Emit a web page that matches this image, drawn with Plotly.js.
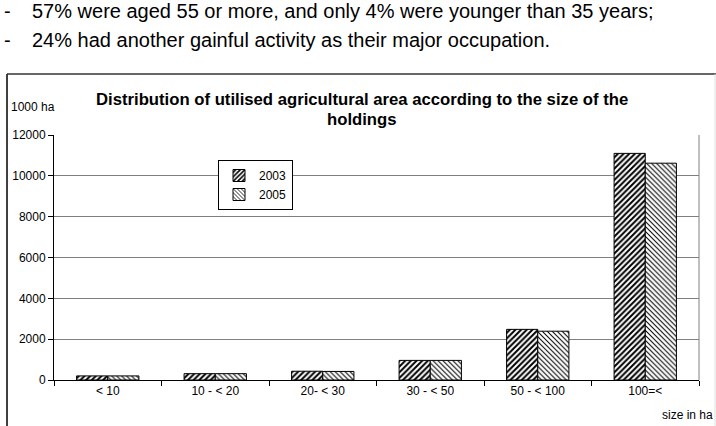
<!DOCTYPE html>
<html>
<head>
<meta charset="utf-8">
<script src="https://cdn.plot.ly/plotly-3.0.1.min.js"></script>
<style>
  html, body { margin: 0; padding: 0; background: #fff; }
  #chart { width: 716px; height: 426px; }
</style>
</head>
<body>
<div id="chart"></div>
<script>
// ---- data ----
const categories = ["< 10", "10 - < 20", "20- < 30", "30 - < 50", "50 - < 100", "100=<"];
const values2003 = [200, 310, 430, 960, 2480, 11100];
const values2005 = [200, 310, 420, 960, 2390, 10620];
const seriesNames = ["2003", "2005"];
const yTicks = [0, 2000, 4000, 6000, 8000, 10000, 12000];
const titleLines = ["Distribution of utilised agricultural area according to the size of the", "holdings"];
const bulletLines = ["57% were aged 55 or more, and only 4% were younger than 35 years;",
                     "24% had another gainful activity as their major occupation."];

// ---- layout helpers (plot area in pixels) ----
const W = 716, H = 426;
const PL = 54, PR = 699, PT = 135, PB = 380;
const px = x => (x - PL) / (PR - PL);
const py = y => (PB - y) / (PB - PT);

const FONT = "Liberation Sans, Arial, sans-serif";
const TOPSIZE = 20;

const traces = [
  {
    type: "bar", name: seriesNames[0], x: categories, y: values2003,
    marker: {
      color: "#ffffff",
      line: { color: "#000000", width: 1 },
      pattern: { shape: "/", fgcolor: "#000000", bgcolor: "#ffffff", size: 4, solidity: 0.5 }
    }
  },
  {
    type: "bar", name: seriesNames[1], x: categories, y: values2005,
    marker: {
      color: "#ffffff",
      line: { color: "#000000", width: 1 },
      pattern: { shape: "\\", fgcolor: "#000000", bgcolor: "#ffffff", size: 3.5, solidity: 0.3 }
    }
  }
];

const annotations = [
  // bullet lines above chart
  { text: "-", x: px(2), y: py(11), xanchor: "left", yanchor: "middle", font: { family: FONT, size: TOPSIZE, color: "#000" } },
  { text: bulletLines[0], x: px(30), y: py(11), xanchor: "left", yanchor: "middle", font: { family: FONT, size: TOPSIZE, color: "#000" } },
  { text: "-", x: px(2), y: py(40), xanchor: "left", yanchor: "middle", font: { family: FONT, size: TOPSIZE, color: "#000" } },
  { text: bulletLines[1], x: px(30), y: py(40), xanchor: "left", yanchor: "middle", font: { family: FONT, size: TOPSIZE, color: "#000" } },
  // chart title
  { text: "<b>" + titleLines[0] + "</b>", x: px(362), y: py(99), xanchor: "center", yanchor: "middle", font: { family: FONT, size: 16.7, color: "#000" } },
  { text: "<b>" + titleLines[1] + "</b>", x: px(362), y: py(119), xanchor: "center", yanchor: "middle", font: { family: FONT, size: 16.7, color: "#000" } },
  // axis unit labels
  { text: "1000 ha", x: px(9), y: py(107), xanchor: "left", yanchor: "middle", font: { family: FONT, size: 12, color: "#000" } },
  { text: "size in ha", x: px(715), y: py(415), xanchor: "right", yanchor: "middle", font: { family: FONT, size: 12, color: "#000" } }
];

annotations.forEach(a => { a.xref = "paper"; a.yref = "paper"; a.showarrow = false; });

const shapes = [
  // outer chart frame
  { type: "line", xref: "paper", yref: "paper", x0: px(7), x1: px(7), y0: py(74), y1: py(440), line: { color: "#000", width: 1.5 } },
  { type: "line", xref: "paper", yref: "paper", x0: px(7), x1: px(716), y0: py(74), y1: py(74), line: { color: "#333", width: 1.5 } },
  { type: "line", xref: "paper", yref: "paper", x0: px(715), x1: px(715), y0: py(74), y1: py(440), line: { color: "#e0e0e0", width: 1 } },
  // plot area right border
  { type: "line", xref: "paper", yref: "paper", x0: 1, x1: 1, y0: 0, y1: 1, line: { color: "#808080", width: 1 } }
];

const layout = {
  width: W, height: H,
  margin: { l: PL, r: W - PR, t: PT, b: H - PB, pad: 0 },
  paper_bgcolor: "#ffffff", plot_bgcolor: "#ffffff",
  font: { family: FONT, size: 12, color: "#000" },
  showlegend: true,
  legend: {
    x: px(218), y: py(160), xanchor: "left", yanchor: "top",
    bgcolor: "#ffffff", bordercolor: "#000000", borderwidth: 1,
    font: { family: FONT, size: 12, color: "#000" },
    itemwidth: 30, tracegroupgap: 0
  },
  barmode: "group", bargap: 0.42, bargroupgap: 0,
  xaxis: {
    type: "category", showline: true, linecolor: "#000", linewidth: 1,
    ticks: "outside", tickson: "boundaries", ticklen: 5, tickcolor: "#000",
    showgrid: false, zeroline: false,
    tickfont: { family: FONT, size: 12, color: "#000" }
  },
  yaxis: {
    range: [0, 12000], tickvals: yTicks, ticktext: yTicks.map(String),
    showline: true, linecolor: "#000", linewidth: 1,
    ticks: "outside", ticklen: 5, tickcolor: "#000",
    showgrid: true, gridcolor: "#808080", gridwidth: 1,
    zeroline: false,
    tickfont: { family: FONT, size: 12, color: "#000" }
  },
  annotations: annotations,
  shapes: shapes
};

Plotly.newPlot("chart", traces, layout, { displayModeBar: false, staticPlot: true });
</script>
</body>
</html>
